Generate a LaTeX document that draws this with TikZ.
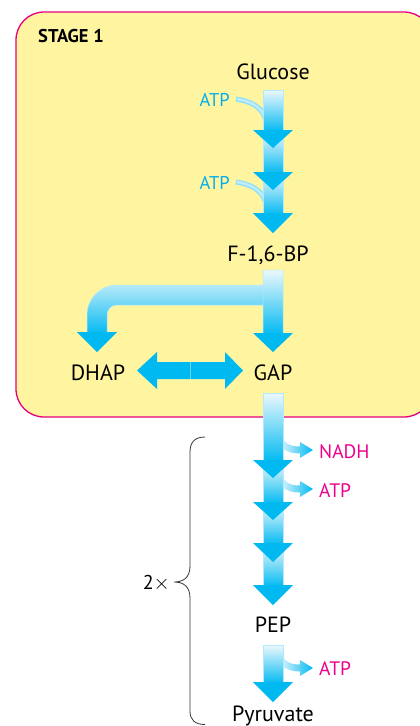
\documentclass[tikz,border=0pt]{standalone}
\usepackage{fontspec}
\setmainfont{PT Sans}
\definecolor{cyanA}{RGB}{0,185,241}
\definecolor{shaftlight}{RGB}{236,248,253}
\definecolor{yellowbg}{RGB}{255,245,160}
\definecolor{pinkline}{RGB}{230,0,126}
\definecolor{magtext}{RGB}{236,0,140}
\definecolor{atpblue}{RGB}{0,174,239}
\tikzset{
  species/.style={anchor=base, inner sep=0pt, font=\fontsize{22}{25}\selectfont},
  cofactorin/.style={anchor=base east, inner sep=0pt, text=atpblue, font=\fontsize{18.5}{21}\selectfont},
  cofactorout/.style={anchor=base west, inner sep=0pt, text=magtext, font=\fontsize{19.5}{22}\selectfont},
  shaftstyle/.style={top color=shaftlight, bottom color=cyanA, draw=cyanA!30, line width=0.5pt},
  headstyle/.style={fill=cyanA},
}
\newcommand\myshaft[3]{\path[shaftstyle] ({#1-10},#2) rectangle ({#1+10},#3);}
\newcommand\myhead[3]{\path[headstyle] ({#1-20},#2) -- ({#1+20},#2) -- (#1,#3) -- cycle;}
\newcommand\sidearr[1]{\shade[left color=shaftlight, right color=cyanA]
  (281,{#1-16}) .. controls (284,{#1-7}) and (289,{#1-3.5}) .. (300,{#1-3.5})
  -- (300,{#1-8}) -- (313,#1) -- (300,{#1+8}) -- (300,{#1+3.5})
  .. controls (288,{#1+3.5}) and (280,{#1-1}) .. (278,{#1-10}) -- cycle;}
\newcommand\atpin[1]{%
  \draw[cyanA!45, line width=5pt] (236,#1) .. controls (250,{#1+2}) and (262,{#1+8}) .. (265,{#1+19});
  \draw[white!75!cyanA, line width=2.4pt] (237,#1) .. controls (250,{#1+2}) and (262,{#1+8}) .. (265,{#1+19});}
\begin{document}
\begin{tikzpicture}[x=1pt,y=-1pt]
\useasboundingbox (0,0) rectangle (420,726);
\clip (0,0) rectangle (420,726);
% stage box
\draw[fill=yellowbg, draw=pinkline, line width=1.3pt, rounded corners=28pt] (16,12) rectangle (432,417);
\node[anchor=base west, inner sep=0pt, font=\bfseries\fontsize{18.5}{21}\selectfont] (stage) at (38,42) {STAGE 1};
% cofactor inputs stage 1
\atpin{99}
\atpin{182}
% stage 1 main arrow
\myshaft{273}{90}{132}
\myshaft{273}{132}{174}
\myshaft{273}{174}{215}
\myhead{273}{130}{148}
\myhead{273}{172}{190}
\myhead{273}{213}{233}
% split arrow
\path[shaftstyle] (263,270) rectangle (283,335)
  (263,285) -- (117,285) .. controls (100.43,285) and (87,298.43) .. (87,315)
  -- (87,334) -- (107,334) -- (107,315) .. controls (107,309.48) and (111.48,305) .. (117,305)
  -- (263,305) -- cycle;
\myhead{273}{333}{352}
\myhead{97}{332}{352}
% double arrow
\fill[cyanA] (137,370.5) -- (157,352) -- (157,362) -- (225,362) -- (225,352) -- (243,370.5)
  -- (225,389) -- (225,379) -- (157,379) -- (157,389) -- cycle;
\draw[cyanA!60!white, line width=0.4pt] (190,362) -- (190,379);
% stage 2 side outputs
\sidearr{450}
\sidearr{489}
\sidearr{668}
% stage 2 main arrow
\myshaft{273}{393}{462}
\myshaft{273}{462}{504}
\myshaft{273}{504}{545}
\myshaft{273}{545}{587}
\myhead{273}{460}{478}
\myhead{273}{502}{520}
\myhead{273}{543}{562}
\myhead{273}{585}{605}
\myshaft{273}{645}{684}
\myhead{273}{682}{702}
% species
\node[species] (glc) at (273,79) {Glucose};
\node[species] (fbp) at (268,261) {F-1,6-BP};
\node[species] (dhap) at (98,380) {DHAP};
\node[species] (gap) at (273,380) {GAP};
\node[species] (pep) at (273,632) {PEP};
\node[species] (pyr) at (273,721) {Pyruvate};
% cofactors
\node[cofactorin] (atp1) at (230,106) {ATP};
\node[cofactorin] (atp2) at (230,189) {ATP};
\node[cofactorout] (nadh) at (319,458) {NADH};
\node[cofactorout] (atp3) at (319,497) {ATP};
\node[cofactorout] (atp4) at (319,675) {ATP};
% brace
\draw[black!80, line width=0.8pt] (205,437) .. controls (195,437) and (190,442) .. (190,452)
  -- (190,566) .. controls (190,578) and (183,582) .. (174,582)
  .. controls (183,582) and (190,586) .. (190,598)
  -- (190,711) .. controls (190,720) and (195,724.5) .. (205,724.5);
\node[anchor=base east, inner sep=0pt, font=\fontsize{20}{23}\selectfont] (twox) at (170,589) {2$\times$};
\end{tikzpicture}
\end{document}
